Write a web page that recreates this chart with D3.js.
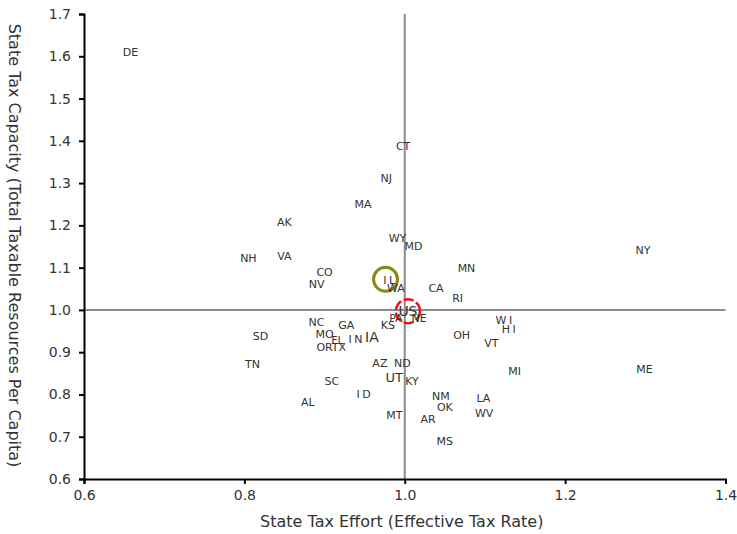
<!DOCTYPE html>
<html>
<head>
<meta charset="utf-8">
<script src="https://cdn.jsdelivr.net/npm/d3@7"></script>
<style>
  html, body { margin: 0; padding: 0; background: #fff; }
  svg { display: block; font-family: "DejaVu Sans", Verdana, sans-serif; }
</style>
</head>
<body>
<svg id="chart" width="737" height="534"></svg>
<script>
// State codes with tax effort (x) and tax capacity (y), US = 1.0
const states = ["DE","CT","NJ","MA","AK","WY","MD","NH","VA","CO","NV","IL","WA","MN","CA","RI","NY",
  "US","PA","NE","KS","NC","GA","SD","MO","FL","IN","IA","OR","TX","TN","AZ","ND","UT","KY","SC",
  "ID","AL","NM","OK","MT","AR","MS","LA","WV","MI","ME","OH","WI","HI","VT"];
const taxEffort = [0.658,0.998,0.977,0.948,0.850,0.991,1.011,0.805,0.850,0.900,0.890,0.981,0.989,1.077,1.039,1.066,1.297,
  1.004,0.989,1.018,0.979,0.890,0.927,0.820,0.900,0.916,0.939,0.959,0.900,0.918,0.810,0.969,0.997,0.987,1.009,0.909,
  0.949,0.879,1.045,1.050,0.987,1.029,1.050,1.098,1.099,1.137,1.299,1.071,1.124,1.130,1.108];
const taxCapacity = [1.609,1.387,1.311,1.250,1.207,1.169,1.151,1.122,1.127,1.089,1.061,1.070,1.051,1.098,1.051,1.028,1.141,
  0.997,0.980,0.980,0.962,0.971,0.962,0.938,0.943,0.928,0.930,0.935,0.910,0.910,0.872,0.873,0.873,0.840,0.830,0.831,
  0.801,0.782,0.796,0.768,0.750,0.740,0.688,0.791,0.754,0.854,0.858,0.939,0.976,0.954,0.921];
const largeLabels = ["US","IA"];
const mediumLabels = ["UT"];
const spacedLabels = ["IN","ID","HI","WI","IL"];
const xTicks = [0.6, 0.8, 1.0, 1.2, 1.4];
const yTicks = [0.6, 0.7, 0.8, 0.9, 1.0, 1.1, 1.2, 1.3, 1.4, 1.5, 1.6, 1.7];
const highlightIL = "IL";
const highlightUS = "US";

const data = states.map((s, i) => ({ state: s, x: taxEffort[i], y: taxCapacity[i] }));

const svg = d3.select("#chart");
const margin = { left: 84, right: 11, top: 14, bottom: 55 };
const width = 737, height = 534;

const x = d3.scaleLinear().domain([0.6, 1.4]).range([margin.left, width - margin.right - 0.5]);
const y = d3.scaleLinear().domain([0.6, 1.7]).range([height - margin.bottom, margin.top]);

// reference lines at the US average
svg.append("line")
  .attr("x1", x(1.0)).attr("x2", x(1.0))
  .attr("y1", y(1.7)).attr("y2", y(0.6))
  .attr("stroke", "#8c8c8c").attr("stroke-width", 2);
svg.append("line")
  .attr("x1", x(0.6)).attr("x2", x(1.4))
  .attr("y1", y(1.0)).attr("y2", y(1.0))
  .attr("stroke", "#8c8c8c").attr("stroke-width", 2);

// axes
const xAxis = svg.append("g")
  .attr("transform", `translate(0,${y(0.6)})`)
  .call(d3.axisBottom(x).tickValues(xTicks).tickFormat(d3.format(".1f")).tickSize(5).tickPadding(6));
const yAxis = svg.append("g")
  .attr("transform", `translate(${x(0.6)},0)`)
  .call(d3.axisLeft(y).tickValues(yTicks).tickFormat(d3.format(".1f")).tickSize(5).tickPadding(8));

[xAxis, yAxis].forEach(g => {
  g.select(".domain").attr("stroke", "#000").attr("stroke-width", 2);
  g.selectAll(".tick line").attr("stroke", "#000").attr("stroke-width", 2);
  g.selectAll(".tick text").attr("font-size", 14).attr("fill", "#333")
    .attr("font-family", "'DejaVu Sans', Verdana, sans-serif");
});

// axis titles
svg.append("text")
  .attr("x", x(1.0) - 3).attr("y", 527)
  .attr("text-anchor", "middle")
  .attr("font-size", 16).attr("fill", "#333")
  .text("State Tax Effort (Effective Tax Rate)");
svg.append("text")
  .attr("transform", `translate(14,${(y(0.6) + y(1.7)) / 2 - 1}) rotate(90)`)
  .attr("text-anchor", "middle")
  .attr("dominant-baseline", "central")
  .attr("font-size", 16).attr("fill", "#333")
  .text("State Tax Capacity (Total Taxable Resources Per Capita)");

// highlight rings
const il = data.find(d => d.state === highlightIL);
const us = data.find(d => d.state === highlightUS);
svg.append("circle")
  .attr("cx", x(il.x) - 4).attr("cy", y(il.y) - 1).attr("r", 12)
  .attr("fill", "none").attr("stroke", "#878a17").attr("stroke-width", 3);
svg.append("circle")
  .attr("cx", x(us.x)).attr("cy", y(us.y)).attr("r", 12)
  .attr("fill", "none").attr("stroke", "#ee1111").attr("stroke-width", 2.5)
  .attr("stroke-dasharray", "10 3");

// state labels centred on each point
svg.append("g").selectAll("text")
  .data(data)
  .join("text")
  .attr("x", d => x(d.x) + (spacedLabels.includes(d.state) ? 1 : 0))
  .attr("y", d => y(d.y))
  .attr("text-anchor", "middle")
  .attr("dominant-baseline", "central")
  .attr("font-size", d => largeLabels.includes(d.state) ? 14 : mediumLabels.includes(d.state) ? 13 : 11)
  .attr("letter-spacing", d => spacedLabels.includes(d.state) ? 2.5 : 0)
  .attr("fill", "#333")
  .text(d => d.state);
</script>
</body>
</html>
